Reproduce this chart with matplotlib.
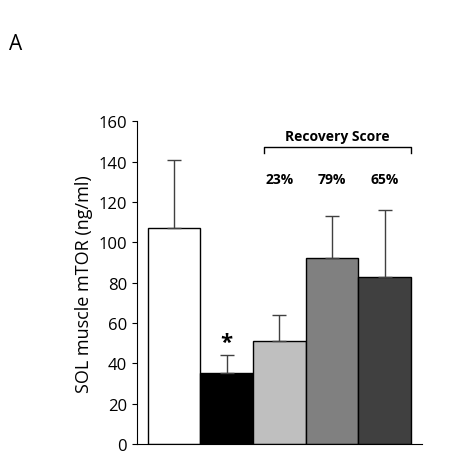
import matplotlib
matplotlib.use("Agg")
import matplotlib.pyplot as plt
plt.rcParams['font.family'] = ['Open Sans', 'DejaVu Sans']

values = [107, 35, 51, 92, 83]
errors = [34, 9, 13, 21, 33]
colors = ["white", "black", "#bfbfbf", "#808080", "#404040"]
scores = ["23%", "79%", "65%"]

fig = plt.figure(figsize=(4.52, 4.56), dpi=100)
ax = fig.add_axes([0.303, 0.024, 0.63, 0.708])
x = list(range(len(values)))
ax.bar(x, values, width=1.0, color=colors, edgecolor="black", linewidth=1)
ax.errorbar(x, values, yerr=[[0]*len(errors), errors], fmt="none", ecolor="#404040", capsize=5, elinewidth=1)
ax.set_xlim(-0.7, 4.7)
ax.set_ylim(0, 160)
ax.set_yticks(range(0, 161, 20))
ax.set_xticks([])
ax.spines["top"].set_visible(False)
ax.spines["right"].set_visible(False)
ax.tick_params(axis="y", labelsize=12, direction="out")
ax.set_ylabel("SOL muscle mTOR (ng/ml)", fontsize=13)
ax.text(1, values[1] + errors[1] + 1, "*", ha="center", va="bottom", fontsize=16, fontweight="bold")
ax.plot([1.7, 1.7, 4.5, 4.5], [144, 147, 147, 144], color="black", lw=1, clip_on=False)
ax.text(3.1, 149, "Recovery Score", ha="center", va="bottom", fontsize=10, fontweight="bold")
for xi, s in zip([2, 3, 4], scores):
    ax.text(xi, 128, s, ha="center", va="bottom", fontsize=10, fontweight="bold")
fig.text(0.02, 0.89, "A", fontsize=15)
fig.savefig("out.png", dpi=100)
